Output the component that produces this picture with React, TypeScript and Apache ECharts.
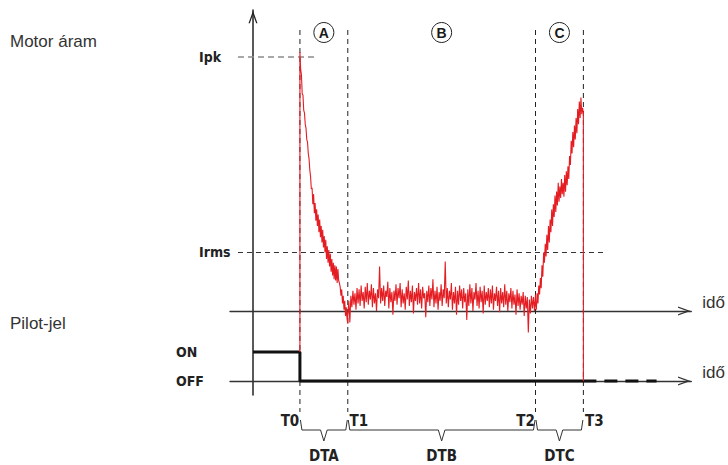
import React, { useEffect, useRef } from "react";
import * as echarts from "echarts";

// ---------- time axis (arbitrary units, origin at the vertical axis) ----------
const X_MIN = -4.9;
const X_MAX = 93.4;
const timeMarks = [10, 20.2, 60.2, 70.4]; // T0, T1, T2, T3
const timeLabels = ["T0", "T1", "T2", "T3"];
const phaseNames = ["A", "B", "C"];
const intervalNames = ["DTA", "DTB", "DTC"];

// ---------- motor current (units: Ipk = 100) ----------
const Y_CUR_MIN = -33.07;
const Y_CUR_MAX = 118.5;
const levelValues = [100, 23.2];
const levelLabels = ["Ipk", "Irms"];
const levelLineFrom = -3.2;
const ipkLineTo = 13.2;
const irmsLineTo = 75.3;
const traceStartLevel = -16.1; // trace joins the pilot ON level at T0
const traceEndLevel = -27.6; // trace drops to the pilot OFF level at T3

// phase A: T0 -> T1 (decay from the peak)
const currentA = [
  102, 95, 93, 85.5, 85, 79, 78, 73.5, 72, 67.5, 66.5, 62, 60, 55.5, 53, 48,
  48.5, 42, 46, 38.5, 42.5, 35.5, 40, 33.5, 38, 31, 36, 29, 33.5, 27, 32, 25,
  29.5, 23, 28, 20.5, 25.5, 19, 24, 17.5, 22.5, 15.5, 20.5, 14, 19, 12.5, 18,
  12, 17.5, 11, 16.5, 12, 11, 9.5, 6, 8.5, 3, 6, 0.5, 4, -2, 1.5, -3, -5,
];
// phase B: T1 -> T2 (noisy steady state)
const currentB = [
  -2, 4, -4.5, 6, 1.5, 8, 2.5, 7, 0.5, 9,
  3, 8.5, 2, 10, 4, 7.5, 1, 9.5, 3.5, 11,
  2.5, 8, 4.5, 10.5, 1.5, 9, 3, 7, 0, 8.5,
  5, 17.5, 3, 9, 4, 10, 2, 8, 5.5, 11.5,
  1, 9, 3.5, 7.5, -1.5, 8, 4, 10.5, 2.5, 9,
  5, 11, 1.5, 8.5, 3, 7, 0.5, 9.5, 4.5, 12,
  2, 8, 3.5, 10, -1, 7.5, 4, 9, 2.5, 11,
  3, 8.5, 1, 9.5, 5, 7, -2.5, 8, 3.5, 10,
  2, 9, 4.5, 12.5, 1.5, 8, 3, 9.5, 0.5, 7.5,
  4, 10.5, 2, 8.5, 5, 19.5, 3, 9, 1.5, 8,
  4.5, 11, 0.5, 7.5, 3, 9.5, -1.5, 8, 2.5, 10,
  4, 8.5, 1, 9, 3.5, 7, -3.5, 8.5, 2, 10.5,
  3, 9, 0, 7.5, 4.5, 11, 2, 8, 1, 9.5,
  3.5, 8, -1, 10, 2.5, 7.5, 4, 9, 1.5, 8.5,
  3, 10, 0.5, 7, 4, 9.5, 2, 8, -0.5, 9,
  3, 7.5, 1.5, 10.5, 2.5, 8, 0, 7, 3.5, 9,
  1, 8, 2.5, 6.5, -1.5, 8.5, 2, 7, 0.5, 6,
  2.5, 7.5, -2, 6, 1, 5.5, -8.5, 4.5, -1, 6,
  1, 5.5, 0, 6.5,
];
// phase C: T2 -> T3 (rise)
const currentC = [
  4, 0.5, 7, 3, 10, 6.5, 13, 9, 18, 13.5, 23, 19, 26.5, 21.5, 30, 24, 33.5,
  27, 36, 31, 40, 33.5, 42, 37, 45.5, 39, 47, 41.5, 50.5, 43, 49, 44.5, 52, 46,
  50.5, 45, 53.5, 47, 55, 49.5, 57, 52, 61, 57.5, 67, 62, 70.5, 64.5, 73, 67.5,
  76, 70, 79.5, 73.5, 82.5, 76, 84, 77.5, 80, 78,
];

// ---------- pilot signal ----------
const Y_PIL_MIN = -0.483;
const Y_PIL_MAX = 12.79;
const pilotLevelValues = [1, 0];
const pilotLevelLabels = ["ON", "OFF"];
const pilotTimes = [0, 10, 10, 70.4];
const pilotValues = [1, 1, 0, 0];
const pilotTailTimes = [70.4, 86];
const pilotTailValues = [0, 0];

const RED = "#e41d23";
const FONT_SANS = "'Liberation Sans', Arial, Helvetica, sans-serif";
const FONT_NARROW =
  "'Liberation Sans Narrow', 'DejaVu Sans Condensed', 'Roboto Condensed', 'Liberation Sans', sans-serif";
const CHEVRON = "path://M0,0 L5,14 L3.5,14 L0,4.2 L-3.5,14 L-5,14 Z";

function spread(values: number[], t0: number, t1: number) {
  return values.map((v, i) => [t0 + ((t1 - t0) * i) / (values.length - 1), v]);
}

function pickLabel(v: number, values: number[], labels: string[]) {
  let best = 0;
  values.forEach((x, i) => {
    if (Math.abs(x - v) < Math.abs(values[best] - v)) best = i;
  });
  return Math.abs(values[best] - v) < 1e-6 ? labels[best] : "";
}

export default function App() {
  const ref = useRef<HTMLDivElement>(null);

  useEffect(() => {
    if (!ref.current) return;
    const chart = echarts.init(ref.current, null, { renderer: "svg" });
    const [T0, T1, T2, T3] = timeMarks;
    const trace = [
      [T0, traceStartLevel],
      ...spread(currentA, T0, T1),
      ...spread(currentB, T1, T2),
      ...spread(currentC, T2, T3),
      [T3, traceEndLevel],
    ];
    const intervals = [
      [T0, T1],
      [T1, T2],
      [T2, T3],
    ];

    const narrowLabel = {
      fontFamily: FONT_NARROW,
      fontWeight: "bold" as const,
      color: "#222",
    };
    const arrowLine = (idx: number, width: number, color: string) => ({
      show: true,
      onZero: true,
      onZeroAxisIndex: idx,
      symbol: ["none", CHEVRON],
      symbolSize: [9, 14],
      symbolOffset: [0, -7],
      lineStyle: { color, width },
    });
    const idoName = {
      name: "idő",
      nameLocation: "end" as const,
      nameGap: 11,
      nameTextStyle: {
        fontFamily: FONT_SANS,
        fontSize: 17,
        color: "#333",
        align: "left" as const,
        verticalAlign: "bottom" as const,
      },
    };

    const option: any = {
      animation: false,
      grid: { left: 230, right: 36, top: 10, bottom: 70 },
      graphic: [
        {
          type: "text",
          x: 10,
          y: 41,
          silent: true,
          style: {
            text: "Motor áram",
            font: `17px ${FONT_SANS}`,
            fill: "#333",
            verticalAlign: "middle",
            textVerticalAlign: "middle",
          },
        },
        {
          type: "text",
          x: 10,
          y: 323,
          silent: true,
          style: {
            text: "Pilot-jel",
            font: `17px ${FONT_SANS}`,
            fill: "#333",
            verticalAlign: "middle",
            textVerticalAlign: "middle",
          },
        },
      ],
      xAxis: [
        {
          type: "value",
          gridIndex: 0,
          min: X_MIN,
          max: X_MAX,
          position: "bottom",
          axisLine: arrowLine(0, 1.3, "#333"),
          axisTick: { show: false },
          axisLabel: { show: false },
          splitLine: { show: false },
          ...idoName,
        },
        {
          type: "value",
          gridIndex: 0,
          min: X_MIN,
          max: X_MAX,
          position: "bottom",
          axisLine: arrowLine(1, 1.3, "#333"),
          axisTick: { show: false },
          splitLine: { show: false },
          axisLabel: {
            show: true,
            customValues: timeMarks,
            margin: 18,
            fontSize: 15,
            ...narrowLabel,
            formatter: (v: number) => {
              const i = timeMarks.findIndex((t) => Math.abs(t - v) < 1e-6);
              if (i < 0) return "";
              return i % 2 === 0 ? `{l|${timeLabels[i]}}` : `{r|${timeLabels[i]}}`;
            },
            rich: {
              l: { padding: [0, 20, 0, 0], fontSize: 15, ...narrowLabel },
              r: { padding: [0, 0, 0, 22], fontSize: 15, ...narrowLabel },
            },
          },
          ...idoName,
        },
      ],
      yAxis: [
        {
          type: "value",
          gridIndex: 0,
          min: Y_CUR_MIN,
          max: Y_CUR_MAX,
          position: "left",
          axisLine: { show: false, onZero: false },
          axisTick: { show: false },
          splitLine: { show: false },
          axisLabel: {
            customValues: levelValues,
            align: "left",
            margin: 31,
            fontSize: 14,
            ...narrowLabel,
            formatter: (v: number) => pickLabel(v, levelValues, levelLabels),
          },
        },
        {
          type: "value",
          gridIndex: 0,
          min: Y_PIL_MIN,
          max: Y_PIL_MAX,
          position: "left",
          axisLine: arrowLine(1, 1.5, "#222"),
          axisTick: { show: false },
          splitLine: { show: false },
          axisLabel: {
            customValues: pilotLevelValues,
            align: "left",
            margin: 54,
            fontSize: 14,
            ...narrowLabel,
            formatter: (v: number) =>
              pickLabel(v, pilotLevelValues, pilotLevelLabels),
          },
        },
      ],
      series: [
        {
          type: "custom",
          name: "timeMarks",
          xAxisIndex: 1,
          yAxisIndex: 1,
          silent: true,
          z: 1,
          data: timeMarks.map((t) => [t, 0]),
          renderItem: (params: any, api: any) => {
            const p = api.coord([api.value(0), 0]);
            const cs = params.coordSys;
            return {
              type: "line",
              shape: { x1: p[0], y1: cs.y + 20, x2: p[0], y2: cs.y + cs.height + 17 },
              style: { stroke: "#222", lineWidth: 1, lineDash: [5, 4] },
            };
          },
        },
        {
          type: "line",
          name: "current",
          xAxisIndex: 0,
          yAxisIndex: 0,
          data: trace,
          symbol: "none",
          showSymbol: false,
          clip: false,
          silent: true,
          z: 5,
          lineStyle: { color: RED, width: 1.1 },
          markLine: {
            silent: true,
            symbol: "none",
            label: { show: false },
            animation: false,
            data: [
              [
                {
                  coord: [levelLineFrom, levelValues[0]],
                  lineStyle: { color: "#8c8c8c", width: 1.6, type: [6, 4] },
                },
                { coord: [ipkLineTo, levelValues[0]] },
              ],
              [
                {
                  coord: [levelLineFrom, levelValues[1]],
                  lineStyle: { color: "#333", width: 1, type: [5, 4] },
                },
                { coord: [irmsLineTo, levelValues[1]] },
              ],
            ],
          },
        },
        {
          type: "line",
          name: "pilot",
          xAxisIndex: 1,
          yAxisIndex: 1,
          data: pilotTimes.map((t, i) => [t, pilotValues[i]]),
          symbol: "none",
          silent: true,
          z: 4,
          lineStyle: { color: "#111", width: 3 },
        },
        {
          type: "line",
          name: "pilotTail",
          xAxisIndex: 1,
          yAxisIndex: 1,
          data: pilotTailTimes.map((t, i) => [t, pilotTailValues[i]]),
          symbol: "none",
          silent: true,
          z: 4,
          lineStyle: { color: "#111", width: 3, type: [13, 8] },
        },
        {
          type: "custom",
          name: "phases",
          xAxisIndex: 1,
          yAxisIndex: 1,
          silent: true,
          z: 6,
          data: intervals,
          renderItem: (params: any, api: any) => {
            const i = params.dataIndex;
            const a = api.coord([api.value(0), 0]);
            const b = api.coord([api.value(1), 0]);
            const cs = params.coordSys;
            const mid = (a[0] + b[0]) / 2;
            const top = cs.y;
            const bottom = cs.y + cs.height;
            const by = bottom + 25;
            return {
              type: "group",
              children: [
                {
                  type: "circle",
                  shape: { cx: mid, cy: top + 22.5, r: 10 },
                  style: { fill: "#fff", stroke: "#222", lineWidth: 1 },
                },
                {
                  type: "text",
                  style: {
                    text: phaseNames[i],
                    x: mid,
                    y: top + 23,
                    align: "center",
                    verticalAlign: "middle",
                    textAlign: "center",
                    textVerticalAlign: "middle",
                    font: `bold 14px ${FONT_SANS}`,
                    fill: "#1a1a1a",
                  },
                },
                {
                  type: "polyline",
                  shape: {
                    points: [
                      [a[0] + 0.5, by],
                      [a[0] + 2, by + 10],
                      [mid - 3.3, by + 10],
                      [mid, by + 21],
                      [mid + 3.3, by + 10],
                      [b[0] - 2, by + 10],
                      [b[0] - 0.5, by],
                    ],
                  },
                  style: { stroke: "#333", fill: "none", lineWidth: 1 },
                },
                {
                  type: "text",
                  style: {
                    text: intervalNames[i],
                    x: mid,
                    y: bottom + 61,
                    align: "center",
                    verticalAlign: "middle",
                    textAlign: "center",
                    textVerticalAlign: "middle",
                    font: `bold 15px ${FONT_NARROW}`,
                    fill: "#222",
                  },
                },
              ],
            };
          },
        },
      ],
    };

    chart.setOption(option);
    return () => chart.dispose();
  }, []);

  return (
    <div
      ref={ref}
      style={{ position: "absolute", left: 0, top: 0, width: 728, height: 465, background: "#fff" }}
    />
  );
}
